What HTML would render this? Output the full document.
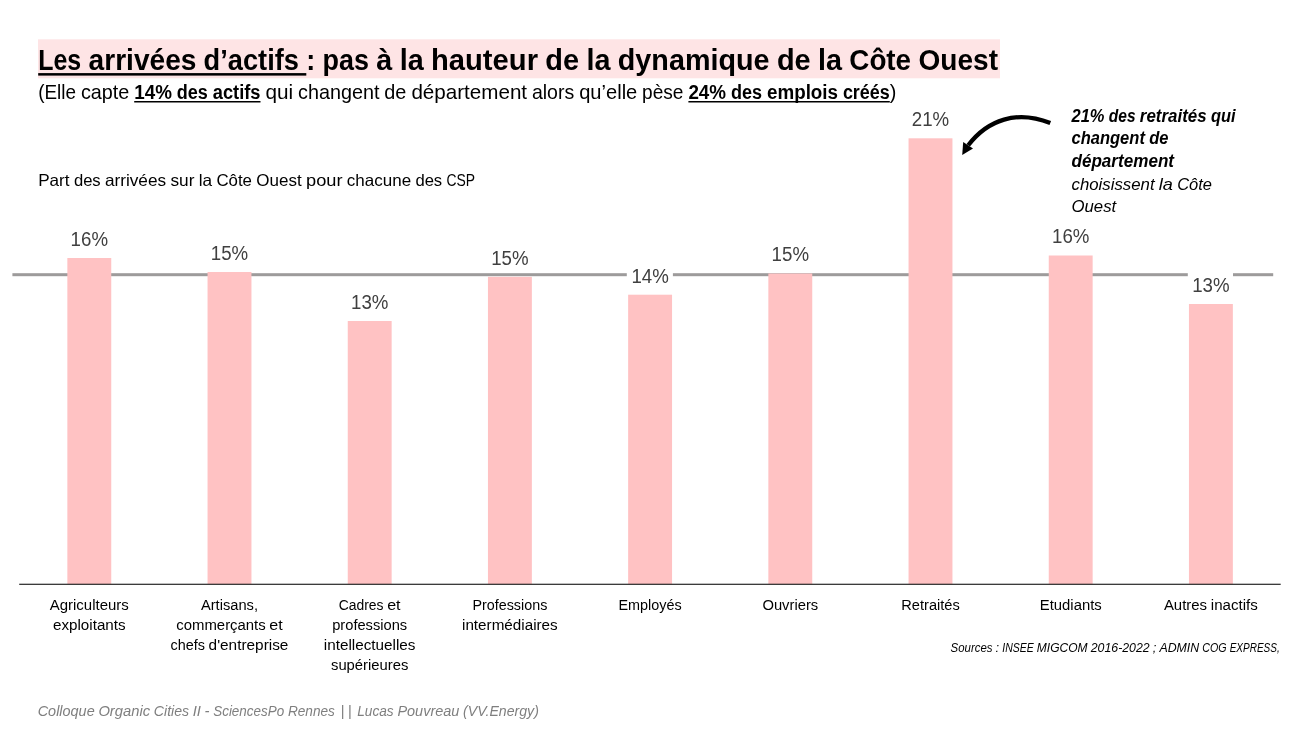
<!DOCTYPE html>
<html lang="fr">
<head>
<meta charset="utf-8">
<title>Les arrivées d’actifs</title>
<style>
html,body{margin:0;padding:0;background:#fff;}
body{width:1300px;height:731px;overflow:hidden;font-family:"Liberation Sans",sans-serif;}
svg{display:block;}
text{font-family:"Liberation Sans",sans-serif;}
.b{font-weight:700;}
.i{font-style:italic;}
</style>
</head>
<body>
<svg width="1300" height="731" viewBox="0 0 1300 731">
<rect x="0" y="0" width="1300" height="731" fill="#ffffff"/>
<rect x="38" y="39.3" width="962" height="39" fill="#FEE4E5"/>
<text y="69.5" font-size="30.19" fill="#000"><tspan x="38.2" class="b" textLength="43.0" lengthAdjust="spacingAndGlyphs">Les</tspan> <tspan x="88.6" class="b" textLength="107.8" lengthAdjust="spacingAndGlyphs">arrivées</tspan> <tspan x="203.6" class="b" textLength="95.3" lengthAdjust="spacingAndGlyphs">d’actifs</tspan> <tspan x="306.3" class="b" textLength="9.0" lengthAdjust="spacingAndGlyphs">:</tspan> <tspan x="322.6" class="b" textLength="46.4" lengthAdjust="spacingAndGlyphs">pas</tspan> <tspan x="376.3" class="b" textLength="16.0" lengthAdjust="spacingAndGlyphs">à</tspan> <tspan x="399.7" class="b" textLength="24.0" lengthAdjust="spacingAndGlyphs">la</tspan> <tspan x="431.0" class="b" textLength="107.0" lengthAdjust="spacingAndGlyphs">hauteur</tspan> <tspan x="545.3" class="b" textLength="33.8" lengthAdjust="spacingAndGlyphs">de</tspan> <tspan x="586.4" class="b" textLength="24.0" lengthAdjust="spacingAndGlyphs">la</tspan> <tspan x="617.8" class="b" textLength="151.8" lengthAdjust="spacingAndGlyphs">dynamique</tspan> <tspan x="776.9" class="b" textLength="33.8" lengthAdjust="spacingAndGlyphs">de</tspan> <tspan x="818.0" class="b" textLength="24.0" lengthAdjust="spacingAndGlyphs">la</tspan> <tspan x="849.3" class="b" textLength="61.8" lengthAdjust="spacingAndGlyphs">Côte</tspan> <tspan x="918.5" class="b" textLength="79.5" lengthAdjust="spacingAndGlyphs">Ouest</tspan></text>
<rect x="38.2" y="73.1" width="268.1" height="2.5" fill="#000"/>
<text y="98.8" font-size="19.80" fill="#000"><tspan x="38.2" textLength="37.8" lengthAdjust="spacingAndGlyphs">(Elle</tspan> <tspan x="80.9" textLength="48.4" lengthAdjust="spacingAndGlyphs">capte</tspan> <tspan x="134.2" class="b" font-size="20.12" textLength="37.7" lengthAdjust="spacingAndGlyphs">14%</tspan> <tspan x="176.8" class="b" font-size="20.12" textLength="31.1" lengthAdjust="spacingAndGlyphs">des</tspan> <tspan x="212.8" class="b" font-size="20.12" textLength="47.7" lengthAdjust="spacingAndGlyphs">actifs</tspan> <tspan x="265.4" textLength="27.7" lengthAdjust="spacingAndGlyphs">qui</tspan> <tspan x="298.0" textLength="81.4" lengthAdjust="spacingAndGlyphs">changent</tspan> <tspan x="384.3" textLength="22.1" lengthAdjust="spacingAndGlyphs">de</tspan> <tspan x="411.4" textLength="115.7" lengthAdjust="spacingAndGlyphs">département</tspan> <tspan x="531.9" textLength="42.4" lengthAdjust="spacingAndGlyphs">alors</tspan> <tspan x="579.2" textLength="58.1" lengthAdjust="spacingAndGlyphs">qu’elle</tspan> <tspan x="642.1" textLength="41.4" lengthAdjust="spacingAndGlyphs">pèse</tspan> <tspan x="688.4" class="b" font-size="20.12" textLength="37.7" lengthAdjust="spacingAndGlyphs">24%</tspan> <tspan x="731.0" class="b" font-size="20.12" textLength="31.1" lengthAdjust="spacingAndGlyphs">des</tspan> <tspan x="767.0" class="b" font-size="20.12" textLength="71.0" lengthAdjust="spacingAndGlyphs">emplois</tspan> <tspan x="842.9" class="b" font-size="20.12" textLength="46.9" lengthAdjust="spacingAndGlyphs">créés</tspan><tspan x="889.8" textLength="6.6" lengthAdjust="spacingAndGlyphs">)</tspan></text>
<rect x="134.2" y="101.0" width="126.3" height="1.5" fill="#000"/>
<rect x="688.4" y="101.0" width="201.4" height="1.5" fill="#000"/>
<text y="186.2" font-size="17.32" fill="#000"><tspan x="38.2" textLength="31.4" lengthAdjust="spacingAndGlyphs">Part</tspan> <tspan x="73.9" textLength="26.8" lengthAdjust="spacingAndGlyphs">des</tspan> <tspan x="104.9" textLength="61.2" lengthAdjust="spacingAndGlyphs">arrivées</tspan> <tspan x="170.4" textLength="24.0" lengthAdjust="spacingAndGlyphs">sur</tspan> <tspan x="198.7" textLength="13.4" lengthAdjust="spacingAndGlyphs">la</tspan> <tspan x="216.4" textLength="35.6" lengthAdjust="spacingAndGlyphs">Côte</tspan> <tspan x="256.3" textLength="45.4" lengthAdjust="spacingAndGlyphs">Ouest</tspan> <tspan x="306.0" textLength="36.5" lengthAdjust="spacingAndGlyphs">pour</tspan> <tspan x="346.8" textLength="64.3" lengthAdjust="spacingAndGlyphs">chacune</tspan> <tspan x="415.4" textLength="26.8" lengthAdjust="spacingAndGlyphs">des</tspan> <tspan x="446.4" textLength="28.6" lengthAdjust="spacingAndGlyphs">CSP</tspan></text>
<rect x="12.4" y="273.2" width="1260.8" height="3" fill="#9D9B9B"/>
<rect x="67.35" y="258" width="43.9" height="326.0" fill="#FFC2C3"/>
<rect x="207.55" y="272" width="43.9" height="312.0" fill="#FFC2C3"/>
<rect x="347.75" y="321" width="43.9" height="263.0" fill="#FFC2C3"/>
<rect x="487.95" y="276.8" width="43.9" height="307.2" fill="#FFC2C3"/>
<rect x="628.15" y="294.7" width="43.9" height="289.3" fill="#FFC2C3"/>
<rect x="768.35" y="273.5" width="43.9" height="310.5" fill="#FFC2C3"/>
<rect x="908.55" y="138.3" width="43.9" height="445.7" fill="#FFC2C3"/>
<rect x="1048.75" y="255.5" width="43.9" height="328.5" fill="#FFC2C3"/>
<rect x="1188.95" y="304" width="43.9" height="280.0" fill="#FFC2C3"/>
<rect x="19.2" y="583.7" width="1261.5" height="1.2" fill="#262626"/>
<text y="245.9" font-size="20.23" fill="#404040"><tspan x="70.6" textLength="37.4" lengthAdjust="spacingAndGlyphs">16%</tspan></text>
<text y="259.9" font-size="20.23" fill="#404040"><tspan x="210.8" textLength="37.4" lengthAdjust="spacingAndGlyphs">15%</tspan></text>
<text y="308.9" font-size="20.23" fill="#404040"><tspan x="351.0" textLength="37.4" lengthAdjust="spacingAndGlyphs">13%</tspan></text>
<text y="264.7" font-size="20.23" fill="#404040"><tspan x="491.2" textLength="37.4" lengthAdjust="spacingAndGlyphs">15%</tspan></text>
<rect x="626.8" y="261.7" width="46.1" height="28" fill="#fff"/>
<text y="282.6" font-size="20.23" fill="#404040"><tspan x="631.4" textLength="37.4" lengthAdjust="spacingAndGlyphs">14%</tspan></text>
<text y="261.4" font-size="20.23" fill="#404040"><tspan x="771.6" textLength="37.4" lengthAdjust="spacingAndGlyphs">15%</tspan></text>
<text y="126.2" font-size="20.23" fill="#404040"><tspan x="911.8" textLength="37.4" lengthAdjust="spacingAndGlyphs">21%</tspan></text>
<text y="243.4" font-size="20.23" fill="#404040"><tspan x="1052.0" textLength="37.4" lengthAdjust="spacingAndGlyphs">16%</tspan></text>
<rect x="1187.8" y="271.0" width="45.2" height="28" fill="#fff"/>
<text y="291.9" font-size="20.23" fill="#404040"><tspan x="1192.2" textLength="37.4" lengthAdjust="spacingAndGlyphs">13%</tspan></text>
<text y="610.2" font-size="14.85" fill="#000"><tspan x="49.7" textLength="79.1" lengthAdjust="spacingAndGlyphs">Agriculteurs</tspan></text>
<text y="630.1" font-size="14.85" fill="#000"><tspan x="53.0" textLength="72.6" lengthAdjust="spacingAndGlyphs">exploitants</tspan></text>
<text y="610.2" font-size="14.85" fill="#000"><tspan x="200.9" textLength="57.1" lengthAdjust="spacingAndGlyphs">Artisans,</tspan></text>
<text y="630.1" font-size="14.85" fill="#000"><tspan x="176.3" textLength="89.4" lengthAdjust="spacingAndGlyphs">commerçants</tspan> <tspan x="269.3" textLength="13.4" lengthAdjust="spacingAndGlyphs">et</tspan></text>
<text y="649.9" font-size="14.85" fill="#000"><tspan x="170.5" textLength="34.4" lengthAdjust="spacingAndGlyphs">chefs</tspan> <tspan x="208.6" textLength="79.8" lengthAdjust="spacingAndGlyphs">d'entreprise</tspan></text>
<text y="610.2" font-size="14.85" fill="#000"><tspan x="338.7" textLength="44.8" lengthAdjust="spacingAndGlyphs">Cadres</tspan> <tspan x="387.2" textLength="13.4" lengthAdjust="spacingAndGlyphs">et</tspan></text>
<text y="630.1" font-size="14.85" fill="#000"><tspan x="332.2" textLength="75.0" lengthAdjust="spacingAndGlyphs">professions</tspan></text>
<text y="649.9" font-size="14.85" fill="#000"><tspan x="323.8" textLength="91.7" lengthAdjust="spacingAndGlyphs">intellectuelles</tspan></text>
<text y="669.8" font-size="14.85" fill="#000"><tspan x="331.0" textLength="77.3" lengthAdjust="spacingAndGlyphs">supérieures</tspan></text>
<text y="610.2" font-size="14.85" fill="#000"><tspan x="472.5" textLength="74.8" lengthAdjust="spacingAndGlyphs">Professions</tspan></text>
<text y="630.1" font-size="14.85" fill="#000"><tspan x="462.0" textLength="95.7" lengthAdjust="spacingAndGlyphs">intermédiaires</tspan></text>
<text y="610.2" font-size="14.85" fill="#000"><tspan x="618.5" textLength="63.2" lengthAdjust="spacingAndGlyphs">Employés</tspan></text>
<text y="610.2" font-size="14.85" fill="#000"><tspan x="762.4" textLength="55.8" lengthAdjust="spacingAndGlyphs">Ouvriers</tspan></text>
<text y="610.2" font-size="14.85" fill="#000"><tspan x="901.3" textLength="58.5" lengthAdjust="spacingAndGlyphs">Retraités</tspan></text>
<text y="610.2" font-size="14.85" fill="#000"><tspan x="1039.8" textLength="61.9" lengthAdjust="spacingAndGlyphs">Etudiants</tspan></text>
<text y="610.2" font-size="14.85" fill="#000"><tspan x="1163.9" textLength="43.2" lengthAdjust="spacingAndGlyphs">Autres</tspan> <tspan x="1210.8" textLength="47.0" lengthAdjust="spacingAndGlyphs">inactifs</tspan></text>
<text y="121.6" font-size="17.61" fill="#000"><tspan x="1071.5" class="b i" textLength="33.0" lengthAdjust="spacingAndGlyphs">21%</tspan> <tspan x="1108.8" class="b i" textLength="26.8" lengthAdjust="spacingAndGlyphs">des</tspan> <tspan x="1139.8" class="b i" textLength="66.9" lengthAdjust="spacingAndGlyphs">retraités</tspan> <tspan x="1211.0" class="b i" textLength="24.6" lengthAdjust="spacingAndGlyphs">qui</tspan></text>
<text y="144.2" font-size="17.61" fill="#000"><tspan x="1071.5" class="b i" textLength="73.4" lengthAdjust="spacingAndGlyphs">changent</tspan> <tspan x="1149.2" class="b i" textLength="19.3" lengthAdjust="spacingAndGlyphs">de</tspan></text>
<text y="166.9" font-size="17.61" fill="#000"><tspan x="1071.5" class="b i" textLength="102.5" lengthAdjust="spacingAndGlyphs">département</tspan></text>
<text y="189.5" font-size="17.32" fill="#000"><tspan x="1071.5" class="i" textLength="83.1" lengthAdjust="spacingAndGlyphs">choisissent</tspan> <tspan x="1158.8" class="i" textLength="14.1" lengthAdjust="spacingAndGlyphs">la</tspan> <tspan x="1177.2" class="i" textLength="34.8" lengthAdjust="spacingAndGlyphs">Côte</tspan></text>
<text y="212.2" font-size="17.32" fill="#000"><tspan x="1071.5" class="i" textLength="44.7" lengthAdjust="spacingAndGlyphs">Ouest</tspan></text>
<path d="M1050.3 123.1 C1016.9 109.7 987.7 119.7 968.2 145.3" fill="none" stroke="#000" stroke-width="4.3"/>
<path d="M962.2 155 L963.2 142 L973 148.5 Z" fill="#000"/>
<text y="652.2" font-size="12.37" fill="#000"><tspan x="950.6" class="i" textLength="41.9" lengthAdjust="spacingAndGlyphs">Sources</tspan> <tspan x="995.6" class="i" textLength="3.6" lengthAdjust="spacingAndGlyphs">:</tspan> <tspan x="1002.3" class="i" textLength="31.4" lengthAdjust="spacingAndGlyphs">INSEE</tspan> <tspan x="1036.8" class="i" textLength="50.8" lengthAdjust="spacingAndGlyphs">MIGCOM</tspan> <tspan x="1090.7" class="i" textLength="59.0" lengthAdjust="spacingAndGlyphs">2016-2022</tspan> <tspan x="1152.7" class="i" textLength="3.6" lengthAdjust="spacingAndGlyphs">;</tspan> <tspan x="1159.4" class="i" textLength="39.8" lengthAdjust="spacingAndGlyphs">ADMIN</tspan> <tspan x="1202.3" class="i" textLength="24.3" lengthAdjust="spacingAndGlyphs">COG</tspan> <tspan x="1229.7" class="i" textLength="50.0" lengthAdjust="spacingAndGlyphs">EXPRESS,</tspan></text>
<text y="715.8" font-size="14.85" fill="#7F7F7F"><tspan x="37.7" class="i" textLength="57.0" lengthAdjust="spacingAndGlyphs">Colloque</tspan> <tspan x="98.4" class="i" textLength="51.7" lengthAdjust="spacingAndGlyphs">Organic</tspan> <tspan x="153.8" class="i" textLength="35.3" lengthAdjust="spacingAndGlyphs">Cities</tspan> <tspan x="192.7" class="i" textLength="8.2" lengthAdjust="spacingAndGlyphs">II</tspan> <tspan x="204.6" class="i" textLength="5.0" lengthAdjust="spacingAndGlyphs">-</tspan> <tspan x="213.2" class="i" textLength="71.0" lengthAdjust="spacingAndGlyphs">SciencesPo</tspan> <tspan x="287.9" class="i" textLength="47.0" lengthAdjust="spacingAndGlyphs">Rennes</tspan> <tspan x="340.4" class="i" textLength="11.3" lengthAdjust="spacing">||</tspan> <tspan x="357.2" class="i" textLength="36.5" lengthAdjust="spacingAndGlyphs">Lucas</tspan> <tspan x="397.4" class="i" textLength="62.0" lengthAdjust="spacingAndGlyphs">Pouvreau</tspan> <tspan x="463.0" class="i" textLength="75.9" lengthAdjust="spacingAndGlyphs">(VV.Energy)</tspan></text>
</svg>
</body>
</html>
